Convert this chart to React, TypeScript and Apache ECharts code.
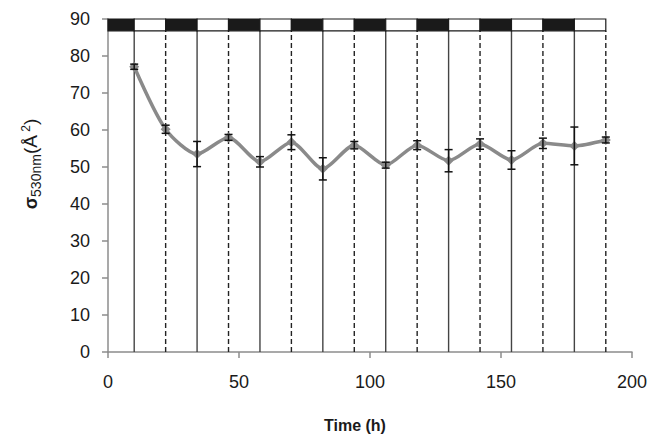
import React, { useEffect, useRef } from "react";
import * as echarts from "echarts";

const TIMES = [10, 22, 34, 46, 58, 70, 82, 94, 106, 118, 130, 142, 154, 166, 178, 190];
const SIGMA = [77.1, 60.2, 53.5, 58.0, 51.4, 56.7, 49.5, 55.9, 50.5, 55.9, 51.7, 56.2, 51.9, 56.4, 55.7, 57.3];
const ERR = [0.7, 1.1, 3.4, 0.8, 1.4, 2.0, 3.0, 1.0, 0.8, 1.2, 3.0, 1.4, 2.5, 1.4, 5.1, 0.8];
const SOLID_LINES = [10, 34, 58, 82, 106, 130, 154, 178];
const DASHED_LINES = [22, 46, 70, 94, 118, 142, 166, 190];
const BAR_EDGES = [0, 10, 22, 34, 46, 58, 70, 82, 94, 106, 118, 130, 142, 154, 166, 178, 190];
const BAR_BOTTOM = 86.8;
const BAR_TOP = 90;
const Y_TICKS = [0, 10, 20, 30, 40, 50, 60, 70, 80, 90];
const X_TICKS = [0, 50, 100, 150, 200];

export default function App() {
  const ref = useRef<HTMLDivElement>(null);
  useEffect(() => {
    if (!ref.current) return;
    const chart = echarts.init(ref.current, undefined, { renderer: "svg" });

    const barData = BAR_EDGES.slice(0, -1).map((x0, i) => [x0, BAR_EDGES[i + 1], i % 2 === 0 ? 1 : 0]);
    const vlines = [
      ...SOLID_LINES.map((x) => [x, 0]),
      ...DASHED_LINES.map((x) => [x, 1]),
    ];
    const errData = TIMES.map((t, i) => [t, SIGMA[i] - ERR[i], SIGMA[i] + ERR[i]]);

    const option: any = {
      animation: false,
      grid: { left: 108, right: 29, top: 19, bottom: 90 },
      xAxis: {
        type: "value",
        min: X_TICKS[0],
        max: X_TICKS[X_TICKS.length - 1],
        interval: 50,
        axisLine: { show: true, lineStyle: { color: "#8c8c8c", width: 1.5 } },
        axisTick: { show: true, length: 6, lineStyle: { color: "#8c8c8c", width: 1.5 } },
        axisLabel: { fontSize: 18, color: "#1a1a1a", margin: 21, fontFamily: "Liberation Sans" },
        splitLine: { show: false },
      },
      yAxis: {
        type: "value",
        min: Y_TICKS[0],
        max: Y_TICKS[Y_TICKS.length - 1],
        interval: 10,
        axisLine: { show: true, lineStyle: { color: "#8c8c8c", width: 1.5 } },
        axisTick: { show: true, length: 6, lineStyle: { color: "#8c8c8c", width: 1.5 } },
        axisLabel: { fontSize: 18, color: "#1a1a1a", margin: 18, fontFamily: "Liberation Sans" },
        splitLine: { show: false },
      },
      graphic: [
        {
          type: "text",
          left: 324,
          top: 417,
          style: { text: "Time (h)", font: "bold 16px Liberation Sans", fill: "#1a1a1a" },
        },
      ],
      series: [
        {
          type: "custom",
          z: 1,
          silent: true,
          data: vlines,
          renderItem: (params: any, api: any) => {
            const x = api.value(0);
            const dashed = api.value(1) === 1;
            const p0 = api.coord([x, 0]);
            const p1 = api.coord([x, BAR_BOTTOM]);
            return {
              type: "line",
              shape: { x1: p0[0], y1: p0[1], x2: p1[0], y2: p1[1] },
              style: {
                stroke: dashed ? "#222" : "#444",
                lineWidth: 1.4,
                lineDash: dashed ? [5, 3] : null,
              },
            };
          },
        },
        {
          type: "custom",
          z: 2,
          silent: true,
          data: barData,
          renderItem: (params: any, api: any) => {
            const x0 = api.value(0);
            const x1 = api.value(1);
            const black = api.value(2) === 1;
            const p0 = api.coord([x0, BAR_TOP]);
            const p1 = api.coord([x1, BAR_BOTTOM]);
            return {
              type: "rect",
              shape: { x: p0[0], y: p0[1], width: p1[0] - p0[0], height: p1[1] - p0[1] },
              style: { fill: black ? "#1a1a1a" : "#ffffff", stroke: "#1a1a1a", lineWidth: 1.2 },
            };
          },
        },
        {
          type: "line",
          z: 3,
          data: TIMES.map((t, i) => [t, SIGMA[i]]),
          smooth: 0.25,
          symbol: "diamond",
          symbolSize: 10,
          lineStyle: { color: "#8a8a8a", width: 3.5 },
          itemStyle: { color: "#8a8a8a" },
        },
        {
          type: "custom",
          z: 4,
          silent: true,
          data: errData,
          renderItem: (params: any, api: any) => {
            const x = api.value(0);
            const lo = api.coord([x, api.value(1)]);
            const hi = api.coord([x, api.value(2)]);
            const w = 4;
            const st = { stroke: "#111", lineWidth: 1.5 };
            return {
              type: "group",
              children: [
                { type: "line", shape: { x1: lo[0], y1: lo[1], x2: hi[0], y2: hi[1] }, style: st },
                { type: "line", shape: { x1: lo[0] - w, y1: lo[1], x2: lo[0] + w, y2: lo[1] }, style: st },
                { type: "line", shape: { x1: hi[0] - w, y1: hi[1], x2: hi[0] + w, y2: hi[1] }, style: st },
              ],
            };
          },
        },
      ],
    };
    chart.setOption(option);
    return () => chart.dispose();
  }, []);
  return (
    <div>
      <div
        ref={ref}
        style={{ position: "fixed", left: 0, top: 0, width: 661, height: 442, background: "#fff" }}
      />
      <div
        style={{
          position: "fixed",
          left: 30,
          top: 164,
          transform: "translate(-50%, -50%) rotate(-90deg)",
          whiteSpace: "nowrap",
          fontFamily: "Liberation Sans, Arial, sans-serif",
          color: "#1a1a1a",
          fontSize: 19,
          lineHeight: 1,
        }}
      >
        <span style={{ fontWeight: "bold", fontSize: 18 }}>σ</span>
        <span style={{ fontSize: 14, position: "relative", top: 4 }}>530nm</span>
        <span>(Å</span>
        <span style={{ fontSize: 12, position: "relative", top: -7 }}>&nbsp;2</span>
        <span>)</span>
      </div>
    </div>
  );
}
